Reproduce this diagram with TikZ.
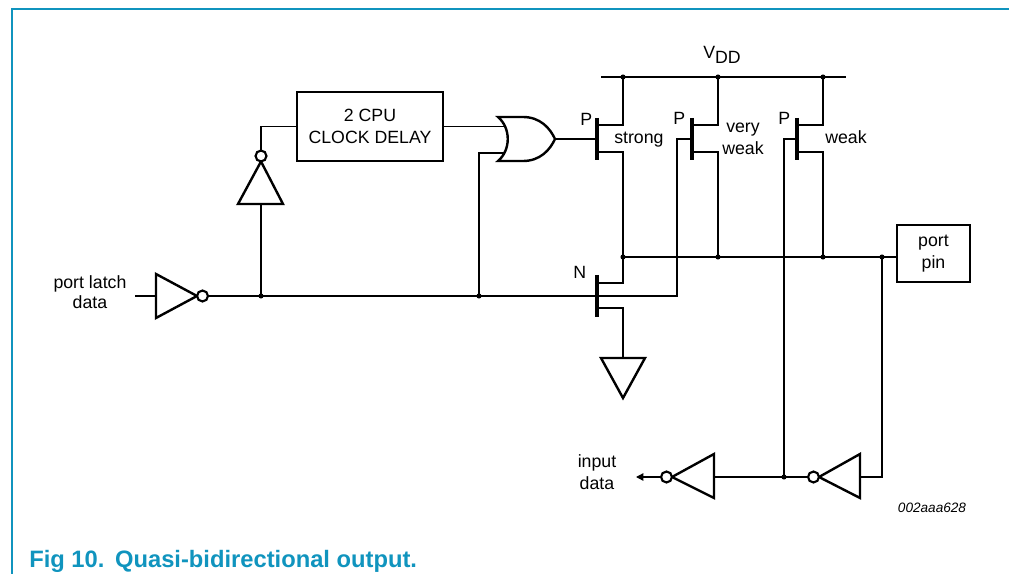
\documentclass[tikz,border=0pt]{standalone}
\usepackage{fontspec}
\setmainfont{Liberation Sans}
\usetikzlibrary{arrows.meta}
\definecolor{nxp}{RGB}{16,148,190}
\begin{document}
\begin{tikzpicture}[x=0.75pt,y=-0.75pt,
  wire/.style={line width=1pt},
  gate/.style={line width=1.8pt,line join=miter},
  plate/.style={line width=2.4pt},
  bubble/.style={line width=1.6pt,fill=white},
  lbl/.style={font=\fontsize{13.3pt}{16pt}\selectfont,inner sep=0pt},
  boxnode/.style={draw,line width=1.8pt,inner sep=0pt,align=center,font=\fontsize{13.3pt}{16.5pt}\selectfont}]
\useasboundingbox (0,0) rectangle (1011,574);
% frame and title
\draw[nxp,line width=1.5pt] (11.5,574) -- (11.5,9.5) -- (1009,9.5);
\node[anchor=base west,inner sep=0pt,text=nxp,font=\fontsize{17.8pt}{20pt}\selectfont\bfseries] (title) at (29,567) {Fig 10.\hspace{8pt}Quasi-bidirectional output.};
\node[anchor=base,inner sep=0pt,font=\fontsize{10.2pt}{12pt}\selectfont\itshape] (code) at (932,512) {002aaa628};

% named points
\coordinate (in) at (135,296);
\coordinate (j1) at (261,296);
\coordinate (j2) at (479,296);
\coordinate (gN) at (677,296);
\coordinate (o1) at (623,257);
\coordinate (o2) at (718,257);
\coordinate (o3) at (823,257);
\coordinate (o4) at (882,257);
\coordinate (v1) at (623,77);
\coordinate (v2) at (718,77);
\coordinate (v3) at (823,77);
\coordinate (rL) at (601,77);
\coordinate (rR) at (846,77);
\coordinate (j3) at (784,477);

% input inverter
\draw[gate] (156,274) -- (197,296) -- (156,318) -- cycle;
\draw[bubble] (202.5,296) circle[radius=4.1pt];
\node[lbl,anchor=base] (pl1) at (90,288) {port latch};
\node[lbl,anchor=base] (pl2) at (90,309) {data};
\draw[wire] (in) -- (156,296);
\draw[wire] (208,296) -- (gN) -- (677,139) -- (692,139);

% upward inverter
\draw[wire] (j1) -- (261,204);
\draw[gate] (238,204) -- (283,204) -- (261,161.5) -- cycle;
\draw[bubble] (261,156) circle[radius=4.1pt];
\node[boxnode,minimum width=109.5pt,minimum height=51.75pt] (delay) at (370,126.5) {2 CPU\\CLOCK DELAY};
\draw[wire] (261,150.5) |- (delay.west);

% OR gate
\draw[gate] (498,117) -- (523,117) .. controls (540,117) and (550,128) .. (555,139)
  .. controls (550,150) and (540,161) .. (523,161) -- (498,161)
  .. controls (511,150) and (511,128) .. (498,117) -- cycle;
\draw[wire] (delay.east) -- (505,126.5);
\draw[wire] (j2) -- (479,153) -- (505,153);
\draw[wire] (555,139) -- (597,139);

% VDD rail
\draw[wire] (rL) -- (rR);
\node[lbl,anchor=base west] (vdd) at (703,59) {V\raisebox{-3.2pt}{DD}};

% P strong
\draw[plate] (597,118) -- (597,160);
\draw[wire] (597,125) -- (623,125) -- (v1);
\draw[wire] (597,152) -- (623,152) -- (o1);
\node[lbl,anchor=base west] (p1) at (580,126) {P};
\node[lbl,anchor=base west] (s1) at (614,144) {strong};

% P very weak
\draw[plate] (692,118) -- (692,160);
\draw[wire] (692,125) -- (718,125) -- (v2);
\draw[wire] (692,152) -- (718,152) -- (o2);
\node[lbl,anchor=base west] (p2) at (673,125) {P};
\node[lbl,anchor=base] (s2a) at (743,133) {very};
\node[lbl,anchor=base] (s2b) at (743,155) {weak};

% P weak
\draw[plate] (797,118) -- (797,160);
\draw[wire] (797,125) -- (823,125) -- (v3);
\draw[wire] (797,152) -- (823,152) -- (o3);
\draw[wire] (797,139) -- (784,139) -- (j3);
\node[lbl,anchor=base west] (p3) at (778,125) {P};
\node[lbl,anchor=base west] (s3) at (825,144) {weak};

% N transistor
\draw[plate] (597,275) -- (597,317);
\draw[wire] (597,283) -- (623,283) -- (o1);
\draw[wire] (597,308) -- (623,308) -- (623,358);
\node[lbl,anchor=base west] (n1) at (573,279) {N};
\draw[gate] (601,358) -- (645,358) -- (623,398) -- cycle;

% output node and port pin
\node[boxnode,minimum width=54.75pt,minimum height=42.75pt] (pin) at (933.5,253.5) {port\\pin};
\draw[wire] (o1) -- (o1 -| pin.west);
\draw[wire] (o4) -- (882,477) -- (860,477);

% input buffer
\draw[gate] (860,454) -- (860,498) -- (819,477) -- cycle;
\draw[bubble] (813.5,477) circle[radius=4.1pt];
\draw[wire] (808,477) -- (714,477);
\draw[gate] (714,454) -- (714,498) -- (672,477) -- cycle;
\draw[bubble] (666.5,477) circle[radius=4.1pt];
\draw[wire,-{Triangle[length=5.5pt,width=5.5pt]}] (661,477) -- (636,477);
\node[lbl,anchor=base] (id1) at (597,467) {input};
\node[lbl,anchor=base] (id2) at (597,489) {data};

% junction dots
\foreach \p in {j1,j2,o1,o2,o3,o4,v1,v2,v3,j3}
  \fill (\p) circle[radius=1.9pt];
\end{tikzpicture}
\end{document}
